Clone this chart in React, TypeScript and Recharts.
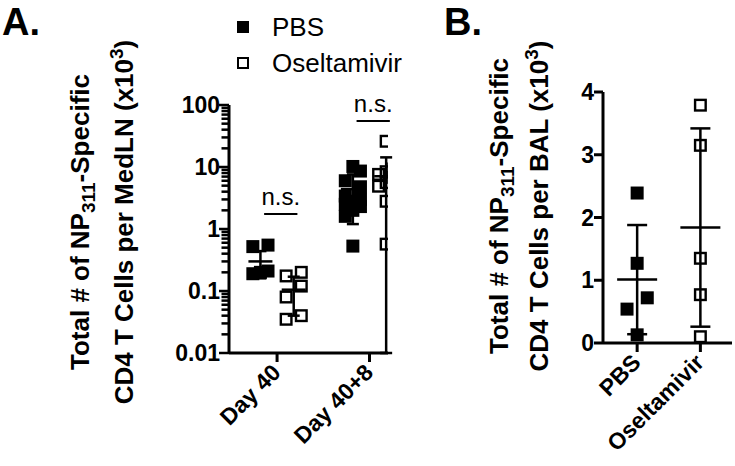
import React from "react";
import {
  ScatterChart,
  Scatter,
  XAxis,
  YAxis,
  ErrorBar,
  ReferenceLine,
  Legend,
} from "recharts";

const FONT = "'Liberation Sans', Arial, Helvetica, sans-serif";

const seriesNames = ["PBS", "Oseltamivir"];

// A. MedLN, x10^3 cells, log axis
const groupsA = ["Day 40", "Day 40+8"];
const pbsDay40 = [0.55, 0.52, 0.21, 0.2, 0.19];
const pbsDay48 = [10.2, 8.6, 6.0, 4.8, 3.4, 3.0, 2.8, 2.5, 2.3, 2.0, 1.6, 0.53];
const oselDay40 = [0.2, 0.175, 0.12, 0.08, 0.04, 0.035];
const oselDay48 = [26, 9.3, 8.4, 7.6, 6.8, 5.6, 4.9, 2.8, 0.57];
const pbsMeanA = [0.3, 4.4];
const pbsSdA = [0.14, 3.2];
const oselMeanA = [0.105, 7.1];
const oselSdA = [0.065, 7.2];
const nsLevelA = [1.75, 55];
const tickLabelsA = ["0.01", "0.1", "1", "10", "100"];

// B. BAL, x10^3 cells
const groupsB = ["PBS", "Oseltamivir"];
const pbsBal = [2.39, 1.27, 0.72, 0.54, 0.13];
const oselBal = [3.79, 3.15, 1.35, 0.77, 0.1];
const meanB = [1.01, 1.84];
const sdB = [0.87, 1.58];
const tickLabelsB = ["0", "1", "2", "3", "4"];

// panel A is plotted in log10 units on a linear axis
const lg = Math.log10;
const floorA = 0.01;
const decadesA = [-2, -1, 0, 1, 2];
const minorSteps = [2, 3, 4, 5, 6, 7, 8, 9];

// chart A geometry
const hA = 466;
const marginA = { top: 105, right: 52, bottom: 0, left: 0 };
const xAxisHA = 113;
const pxPerDecadeA = (hA - marginA.top - xAxisHA) / (decadesA[decadesA.length - 1] - decadesA[0]);

// spread points with close values side by side (rows of up to 3)
function dodge(vals: number[], gap: number, spread: number) {
  const order = vals.map((_, i) => i).sort((a, b) => vals[a] - vals[b]);
  const off = vals.map(() => 0);
  let row: number[] = [];
  const flush = () => {
    row.forEach((idx, k) => {
      off[idx] = row.length === 1 ? 0 : -spread + (2 * spread * k) / (row.length - 1);
    });
    row = [];
  };
  order.forEach((idx) => {
    if (row.length && (row.length === 3 || vals[idx] - vals[row[0]] > gap)) flush();
    row.push(idx);
  });
  flush();
  return off;
}

const shiftA = 0.18;
const pointsA = (groups: number[][], shift: number) =>
  groups.flatMap((vals, g) => {
    const ys = vals.map(lg);
    const off = dodge(ys, 0.2, 0.082);
    return ys.map((y, i) => ({ x: g + 1 + shift + off[i], y }));
  });
const pbsA = pointsA([pbsDay40, pbsDay48], -shiftA);
const oselA = pointsA([oselDay40, oselDay48], shiftA);

const summaryA = (means: number[], sds: number[], shift: number) =>
  means.map((m, g) => ({
    x: g + 1 + shift,
    y: lg(m),
    err: [lg(m) - lg(Math.max(m - sds[g], floorA)), lg(m + sds[g]) - lg(m)],
  }));
const pbsSumA = summaryA(pbsMeanA, pbsSdA, -shiftA);
const oselSumA = summaryA(oselMeanA, oselSdA, shiftA);

const pointsB = (vals: number[], g: number) => {
  const off = dodge(vals, 0.2, 0.16);
  return vals.map((v, i) => ({ x: g + off[i], y: v }));
};
const pbsB = pointsB(pbsBal, 1);
const oselB = pointsB(oselBal, 2);
const sumB = meanB.map((m, g) => ({ x: g + 1, y: m, err: [m - Math.max(m - sdB[g], 0), sdB[g]] }));

const square = (filled: boolean, size: number) => (p: any) =>
  filled ? (
    <rect x={p.cx - size / 2} y={p.cy - size / 2} width={size} height={size} fill="#000" />
  ) : (
    <rect
      x={p.cx - size / 2 + 1.2}
      y={p.cy - size / 2 + 1.2}
      width={size - 2.4}
      height={size - 2.4}
      fill="none"
      stroke="#000"
      strokeWidth={2.4}
    />
  );

const meanLine = (half: number) => (p: any) => (
  <line x1={p.cx - half} x2={p.cx + half} y1={p.cy} y2={p.cy} stroke="#000" strokeWidth={2.5} />
);

const tickText = (x: number, y: number, label: string) => (
  <text x={x} y={y} dy="0.35em" textAnchor="end" fontFamily={FONT} fontWeight="bold" fontSize={23} fill="#000">
    {label}
  </text>
);

// log axis tick: major mark + label, plus the minor marks of the decade above it
const LogTick = (p: any) => {
  const v = Math.round(p.payload.value);
  const top = v === decadesA[decadesA.length - 1];
  return (
    <g>
      <line x1={p.x - 10} x2={p.x} y1={p.y} y2={p.y} stroke="#000" strokeWidth={2.5} />
      {!top &&
        minorSteps.map((m) => {
          const yy = p.y - lg(m) * pxPerDecadeA;
          return <line key={m} x1={p.x - 7.5} x2={p.x} y1={yy} y2={yy} stroke="#000" strokeWidth={2.5} />;
        })}
      {tickText(p.x - 9, p.y, tickLabelsA[v - decadesA[0]])}
    </g>
  );
};

const LinTick = (p: any) => (
  <g>
    <line x1={p.x - 9} x2={p.x} y1={p.y} y2={p.y} stroke="#000" strokeWidth={3} />
    {tickText(p.x - 9, p.y, tickLabelsB[Math.round(p.payload.value)])}
  </g>
);

const catTick = (labels: string[]) => (p: any) => (
  <g>
    <line x1={p.x} x2={p.x} y1={p.y} y2={p.y + 9} stroke="#000" strokeWidth={3} />
    <text
      transform={`translate(${p.x + 5},${p.y + 21}) rotate(-45)`}
      textAnchor="end"
      fontFamily={FONT}
      fontWeight="bold"
      fontSize={23}
      fill="#000"
    >
      {labels[Math.round(p.payload.value) - 1]}
    </text>
  </g>
);

const LegendBox = (props: any) => {
  const items = seriesNames
    .map((n) => (props.payload || []).find((e: any) => e.value === n))
    .filter(Boolean);
  return (
    <div style={{ fontFamily: FONT }}>
      {items.map((e: any) => (
        <div key={e.value} style={{ display: "flex", alignItems: "center", height: 36 }}>
          <svg width={12} height={12} style={{ display: "block" }}>
            <rect x={1} y={1} width={10} height={10} fill={e.color} stroke="#000" strokeWidth={2} />
          </svg>
          <span style={{ marginLeft: 23, fontSize: 26, color: "#000" }}>{e.value}</span>
        </div>
      ))}
    </div>
  );
};

const axisStroke = { stroke: "#000", strokeWidth: 3 };

export default function App() {
  return (
    <div style={{ position: "absolute", left: 0, top: 0, width: 735, height: 466, background: "#fff", fontFamily: FONT }}>
      <div style={{ position: "absolute", left: 0, top: 0 }}>
        <ScatterChart width={440} height={hA} margin={marginA}>
          <XAxis
            type="number"
            dataKey="x"
            domain={[0.48, 2.2]}
            ticks={[1, 2]}
            allowDataOverflow
            height={xAxisHA}
            tickSize={0}
            tickMargin={0}
            axisLine={axisStroke}
            tickLine={false}
            tick={catTick(groupsA)}
          />
          <YAxis
            type="number"
            dataKey="y"
            domain={[lg(floorA), 2]}
            allowDataOverflow
            ticks={decadesA}
            interval={0}
            width={229}
            tickSize={0}
            tickMargin={0}
            axisLine={axisStroke}
            tickLine={false}
            tick={LogTick}
          />
          <Legend
            layout="vertical"
            align="center"
            verticalAlign="middle"
            wrapperStyle={{ left: 237, top: 9, width: 200 }}
            content={LegendBox}
          />
          {groupsA.map((gName, g) => (
            <ReferenceLine
              key={gName}
              segment={[
                { x: g + 1 - shiftA + 0.04, y: lg(nsLevelA[g]) },
                { x: g + 1 + shiftA + 0.04, y: lg(nsLevelA[g]) },
              ]}
              stroke="#000"
              strokeWidth={2}
              ifOverflow="visible"
              label={{ value: "n.s.", position: "top", offset: 9, fontSize: 24, fill: "#000", fontFamily: FONT }}
            />
          ))}
          <Scatter name="PBS" data={pbsA} fill="#000" shape={square(true, 13)} isAnimationActive={false} />
          <Scatter name="Oseltamivir" data={oselA} fill="#fff" shape={square(false, 13)} isAnimationActive={false} />
          <Scatter data={pbsSumA} legendType="none" shape={meanLine(12)} isAnimationActive={false}>
            <ErrorBar dataKey="err" direction="y" width={6} stroke="#000" strokeWidth={2.5} isAnimationActive={false} />
          </Scatter>
          <Scatter data={oselSumA} legendType="none" shape={meanLine(12)} isAnimationActive={false}>
            <ErrorBar dataKey="err" direction="y" width={6} stroke="#000" strokeWidth={2.5} isAnimationActive={false} />
          </Scatter>
        </ScatterChart>
      </div>
      <div style={{ position: "absolute", left: 440, top: 0 }}>
        <ScatterChart width={295} height={466} margin={{ top: 92, right: 3, bottom: 0, left: 0 }}>
          <XAxis
            type="number"
            dataKey="x"
            domain={[0.46, 2.5]}
            ticks={[1, 2]}
            allowDataOverflow
            height={123}
            tickSize={0}
            tickMargin={0}
            axisLine={axisStroke}
            tickLine={false}
            tick={catTick(groupsB)}
          />
          <YAxis
            type="number"
            dataKey="y"
            domain={[0, 4]}
            allowDataOverflow
            ticks={[0, 1, 2, 3, 4]}
            interval={0}
            width={163}
            tickSize={0}
            tickMargin={0}
            axisLine={axisStroke}
            tickLine={false}
            tick={LinTick}
          />
          <Scatter name="PBS" data={pbsB} fill="#000" shape={square(true, 13)} isAnimationActive={false} />
          <Scatter name="Oseltamivir" data={oselB} fill="#fff" shape={square(false, 13)} isAnimationActive={false} />
          <Scatter data={sumB} legendType="none" shape={meanLine(20)} isAnimationActive={false}>
            <ErrorBar dataKey="err" direction="y" width={10} stroke="#000" strokeWidth={2.5} isAnimationActive={false} />
          </Scatter>
        </ScatterChart>
      </div>
      <svg width={735} height={466} style={{ position: "absolute", left: 0, top: 0, pointerEvents: "none" }}>
        <g fontFamily={FONT} fontWeight="bold" fill="#000">
          <text x={2} y={35} fontSize={38}>A.</text>
          <text x={444} y={35} fontSize={38}>B.</text>
          <g fontSize={26} textAnchor="middle">
            <text transform="translate(89,222) rotate(-90)">
              Total # of NP<tspan fontSize={19} dy={6}>311</tspan>
              <tspan dy={-6}>-Specific</tspan>
            </text>
            <text transform="translate(133,222) rotate(-90)">
              CD4 T Cells per MedLN (x10<tspan fontSize={19} dy={-10}>3</tspan>
              <tspan dy={10}>)</tspan>
            </text>
            <text transform="translate(508,206) rotate(-90)">
              Total # of NP<tspan fontSize={19} dy={6}>311</tspan>
              <tspan dy={-6}>-Specific</tspan>
            </text>
            <text transform="translate(548,206) rotate(-90)">
              CD4 T Cells per BAL (x10<tspan fontSize={19} dy={-10}>3</tspan>
              <tspan dy={10}>)</tspan>
            </text>
          </g>
        </g>
      </svg>
    </div>
  );
}
